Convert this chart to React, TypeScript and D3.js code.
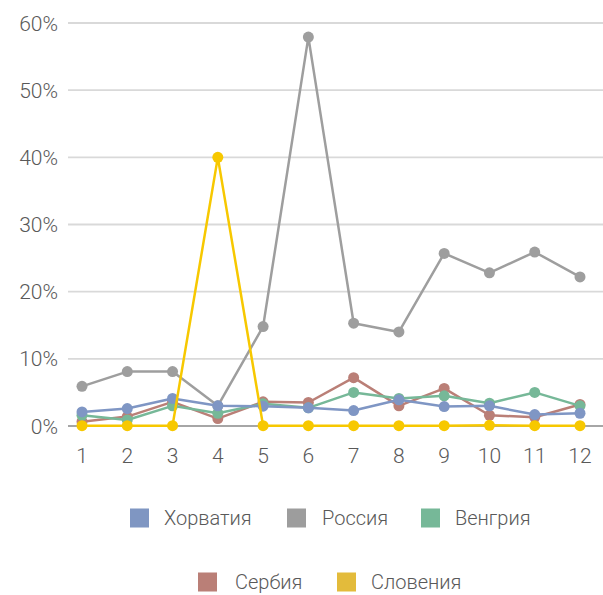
import React from "react";
import * as d3 from "d3";

const months = ["1", "2", "3", "4", "5", "6", "7", "8", "9", "10", "11", "12"];
const croatia = [2.1, 2.6, 4.1, 3.0, 2.95, 2.7, 2.3, 3.9, 2.9, 3.0, 1.7, 1.9];
const russia = [5.9, 8.1, 8.1, 3.0, 14.8, 57.9, 15.3, 14.0, 25.7, 22.8, 25.9, 22.2];
const hungary = [1.6, 0.9, 3.0, 1.9, 3.3, 2.7, 5.0, 4.1, 4.5, 3.4, 5.0, 3.0];
const serbia = [0.65, 1.4, 3.6, 1.1, 3.6, 3.5, 7.2, 3.0, 5.6, 1.6, 1.3, 3.2];
const slovenia = [0.05, 0.05, 0.05, 40, 0.05, 0.05, 0.05, 0.05, 0.05, 0.1, 0.05, 0.05];
const yTicks = [0, 10, 20, 30, 40, 50, 60];

const series = [
  { name: "Хорватия", values: croatia, color: "#7F96C4", legend: "#7F96C2" },
  { name: "Россия", values: russia, color: "#9E9E9E", legend: "#9D9D9D" },
  { name: "Венгрия", values: hungary, color: "#76B898", legend: "#76B898" },
  { name: "Сербия", values: serbia, color: "#BA7F77", legend: "#BA7F77" },
  { name: "Словения", values: slovenia, color: "#F7C800", legend: "#E3BB3B" },
];
const drawOrder = ["Россия", "Сербия", "Венгрия", "Хорватия", "Словения"];

const W = 603;
const H = 595;
const font = "Roboto, 'Open Sans', sans-serif";

export default function App() {
  const x = d3.scalePoint<string>().domain(months).range([82, 580]);
  const y = d3.scaleLinear().domain([0, 60]).range([426, 23]);
  const line = d3
    .line<number>()
    .x((_, i) => x(months[i]) as number)
    .y((d) => y(d));

  const legendRows = [
    [
      { s: series[0], sx: 130, tx: 164 },
      { s: series[1], sx: 287, tx: 322 },
      { s: series[2], sx: 421, tx: 455 },
    ],
    [
      { s: series[3], sx: 198, tx: 235 },
      { s: series[4], sx: 337, tx: 371 },
    ],
  ];
  const legendY = [518, 582];

  return (
    <svg
      width={W}
      height={H}
      style={{ position: "absolute", left: 0, top: 0 }}
      fontFamily={font}
      fontWeight={300}
    >
      <rect width={W} height={H} fill="#fff" />
      {yTicks.map((t) => (
        <g key={t}>
          {t !== 0 && (
            <line x1={68} x2={W} y1={y(t)} y2={y(t)} stroke="#D9D9D9" strokeWidth={1.8} />
          )}
          <text
            x={58}
            y={y(t)}
            dy="0.36em"
            textAnchor="end"
            fontSize={21}
            fill="#595959"
          >
            {t}%
          </text>
        </g>
      ))}
      <line x1={68} x2={W} y1={y(0)} y2={y(0)} stroke="#A6A6A6" strokeWidth={2} />
      {months.map((m) => (
        <text
          key={m}
          x={x(m) as number}
          y={463}
          textAnchor="middle"
          fontSize={21}
          fill="#595959"
        >
          {m}
        </text>
      ))}
      {drawOrder.map((nm) => {
        const s = series.find((q) => q.name === nm)!;
        return (
          <g key={nm}>
            <path d={line(s.values) || ""} fill="none" stroke={s.color} strokeWidth={2.5} strokeLinejoin="round" />
            {s.values.map((v, i) => (
              <circle key={i} cx={x(months[i]) as number} cy={y(v)} r={5.5} fill={s.color} />
            ))}
          </g>
        );
      })}
      {legendRows.map((row, ri) =>
        row.map(({ s, sx, tx }) => (
          <g key={s.name}>
            <rect x={sx} y={legendY[ri] - 9.5} width={19} height={19} fill={s.legend} />
            <text x={tx} y={legendY[ri]} dy="0.36em" fontSize={20} fill="#595959">
              {s.name}
            </text>
          </g>
        ))
      )}
    </svg>
  );
}
